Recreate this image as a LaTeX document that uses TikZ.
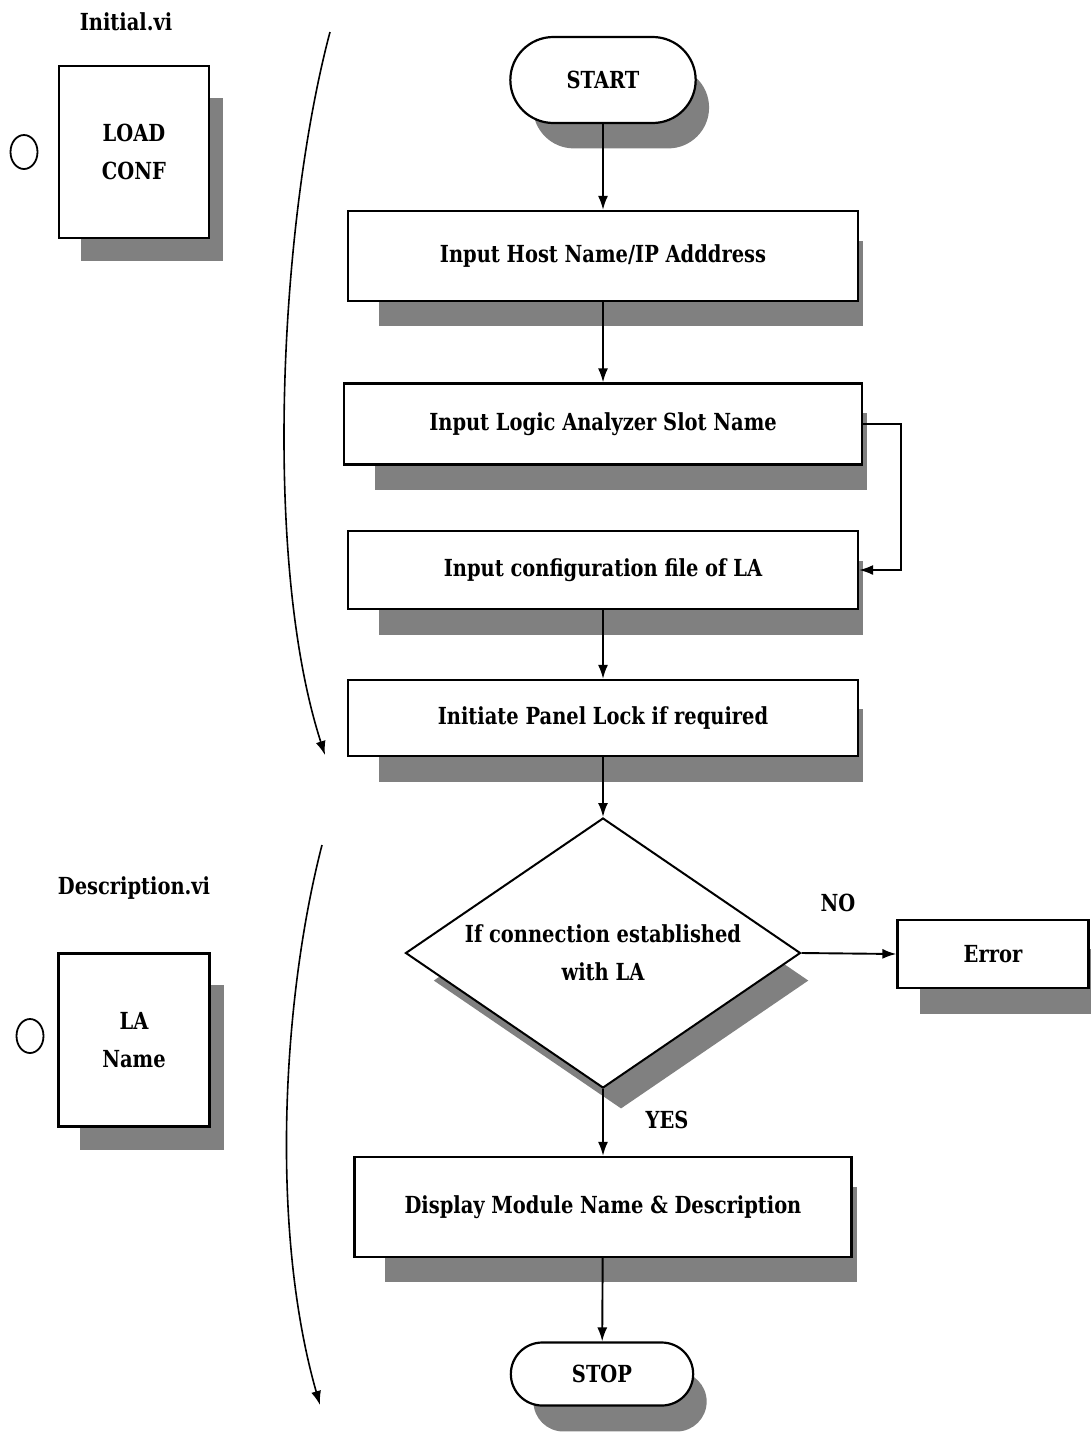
\documentclass[tikz,border=0pt]{standalone}
\usepackage{fontspec}
\setmainfont[FakeStretch=0.92]{DejaVu Serif Condensed}
\usetikzlibrary{shapes.geometric,shapes.misc,shadows,arrows.meta}

\begin{document}
\begin{tikzpicture}[x=1pt, y=-1pt, >={Latex[length=14pt,width=10pt]},
        font=\fontsize{23.5}{38}\selectfont\bfseries,
        shade/.style={drop shadow={shadow xshift=19pt, shadow yshift=-29pt, shadow scale=0.95, fill=black!50, opacity=1}},
        box/.style={rectangle, draw, line width=2.2pt, fill=white, shade, align=center, inner sep=0pt},
        term/.style={rounded rectangle, draw, line width=2.2pt, fill=white, shade, minimum width=192pt, minimum height=86pt},
        decision/.style={diamond, aspect=1.46, draw, line width=2pt, fill=white, shade, align=center, inner sep=0pt, minimum width=395pt, minimum height=270pt},
        pin/.style={ellipse, draw, line width=1.8pt, minimum width=27pt, minimum height=34pt, inner sep=0pt},
        arrow/.style={->, line width=1.9pt},
        flow/.style={->, line width=1.6pt}]

    \useasboundingbox (0,0) rectangle (1091,1433);

    % left side: the two VIs
    \node (initial) at (126,22) {Initial.vi};
    \node[box, minimum width=150pt, minimum height=172pt] (loadconf) at (134,152) {LOAD\\CONF};
    \node[pin] (pinA) at (24,152) {};

    \node (description) at (134,888) {Description.vi};
    \node[box, minimum width=151pt, minimum height=173pt] (laname) at (134,1040) {LA\\Name};
    \node[pin] (pinB) at (30,1036) {};

    % main flow
    \node[term] (start) at (603,80) {START};
    \node[box, minimum width=510pt, minimum height=90pt] (host) at (603,256) {Input Host Name/IP Adddress};
    \node[box, minimum width=518pt, minimum height=81pt] (slot) at (603,424) {Input Logic Analyzer Slot Name};
    \node[box, minimum width=510pt, minimum height=78pt] (config) at (603,570) {Input configuration file of LA};
    \node[box, minimum width=510pt, minimum height=76pt] (lock) at (603,718) {Initiate Panel Lock if required};
    \node[decision] (connected) at (603,953) {If connection established\\with LA};
    \node[box, minimum width=191pt, minimum height=68pt] (error) at (993,954) {Error};
    \node[box, minimum width=497pt, minimum height=100pt] (display) at (603,1207) {Display Module Name \& Description};
    \node[term, minimum width=189pt, minimum height=63pt] (stop) at (602,1374) {STOP};

    \draw[arrow] (start) -- (host);
    \draw[arrow] (host) -- (slot);
    \draw[arrow] (slot.east) -- ++(38,0) |- (config.east);
    \draw[arrow] (config) -- (lock);
    \draw[arrow] (lock) -- (connected);
    \draw[arrow] (connected.east) -- (error.west);
    \draw[arrow] (connected.south) -- (display);
    \draw[arrow] (display) -- (stop);
    \node (no) at (838,903) {NO};
    \node (yes) at (667,1120) {YES};

    % curved arrows marking the extent of each VI
    \coordinate (topA) at (330,32);
    \coordinate (endA) at (325,755);
    \coordinate (topB) at (322,845);
    \coordinate (endB) at (320,1405);
    \draw[flow] (topA) .. controls (280,220) and (262,560) .. (endA);
    \draw[flow] (topB) .. controls (282,1000) and (270,1230) .. (endB);
\end{tikzpicture}
\end{document}
